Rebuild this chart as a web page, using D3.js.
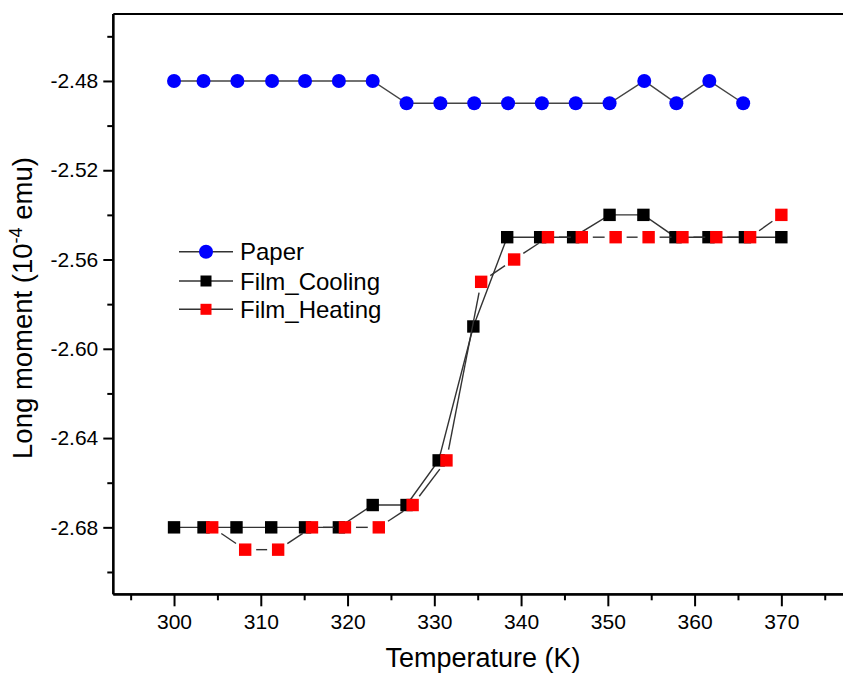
<!DOCTYPE html>
<html>
<head>
<meta charset="utf-8">
<script src="https://cdn.jsdelivr.net/npm/d3@7"></script>
<style>
  html, body { margin: 0; padding: 0; background: #fff; }
  svg { display: block; }
  text { font-family: Arial, "Liberation Sans", sans-serif; fill: #000; }
</style>
</head>
<body>
<svg id="chart" width="843" height="675"></svg>
<script>
// ---- data ----
const paperT = [300, 303.4, 307.3, 311.3, 315.1, 319.0, 322.9, 326.8, 330.7, 334.6, 338.5, 342.4, 346.3, 350.2, 354.2, 357.9, 361.7, 365.6];
const paperM = [-2.48, -2.48, -2.48, -2.48, -2.48, -2.48, -2.48, -2.49, -2.49, -2.49, -2.49, -2.49, -2.49, -2.49, -2.48, -2.49, -2.48, -2.49];

const coolT = [300, 303.4, 307.2, 311.2, 315.1, 319.0, 322.9, 326.8, 330.5, 334.5, 338.4, 342.2, 346.0, 350.2, 354.1, 357.8, 361.6, 365.8, 370.0];
const coolM = [-2.68, -2.68, -2.68, -2.68, -2.68, -2.68, -2.67, -2.67, -2.65, -2.59, -2.55, -2.55, -2.55, -2.54, -2.54, -2.55, -2.55, -2.55, -2.55];

const heatT = [304.4, 308.2, 312.0, 315.9, 319.7, 323.6, 327.5, 331.4, 335.4, 339.2, 343.1, 347.0, 350.9, 354.7, 358.6, 362.5, 366.4, 370.0];
const heatM = [-2.68, -2.69, -2.69, -2.68, -2.68, -2.68, -2.67, -2.65, -2.57, -2.56, -2.55, -2.55, -2.55, -2.55, -2.55, -2.55, -2.55, -2.54];

const xMajorTicks = [300, 310, 320, 330, 340, 350, 360, 370];
const xMinorTicks = [295, 305, 315, 325, 335, 345, 355, 365, 375];
const yMajorTicks = [-2.48, -2.52, -2.56, -2.60, -2.64, -2.68];
const yMinorTicks = [-2.46, -2.50, -2.54, -2.58, -2.62, -2.66, -2.70];

const seriesNames = ["Paper", "Film_Cooling", "Film_Heating"];
const seriesColors = ["#0000ff", "#000000", "#ff0000"];

// ---- layout ----
const svg = d3.select("#chart");
const pLeft = 113.3, pTop = 14, pBottom = 594.3;
const x = d3.scaleLinear().domain([293, 380]).range([pLeft, pLeft + 87 * 8.676]);
const y = d3.scaleLinear().domain([-2.71, -2.45]).range([pBottom, pTop]);

// frame: top line
svg.append("line").attr("x1", pLeft).attr("x2", 843).attr("y1", pTop).attr("y2", pTop)
  .attr("stroke", "#000").attr("stroke-width", 2.2);

// x axis
const gx = svg.append("g").attr("transform", `translate(0,${pBottom})`);
gx.call(d3.axisBottom(x).tickValues(xMajorTicks).tickSize(12).tickPadding(8).tickFormat(d3.format("d")));
const gxm = svg.append("g").attr("transform", `translate(0,${pBottom})`);
gxm.call(d3.axisBottom(x).tickValues(xMinorTicks).tickSize(6).tickFormat(""));
[gx, gxm].forEach(g => {
  g.select(".domain").attr("stroke", "#000").attr("stroke-width", 2.2).attr("d", `M${pLeft},0H843`);
  g.selectAll(".tick line").attr("stroke", "#000").attr("stroke-width", 2);
  g.selectAll(".tick text").style("font-size", "21px").style("font-family", "Arial, 'Liberation Sans', sans-serif");
});

// y axis
const gy = svg.append("g").attr("transform", `translate(${pLeft},0)`);
gy.call(d3.axisLeft(y).tickValues(yMajorTicks).tickSize(10).tickPadding(5).tickFormat(d => d.toFixed(2)));
const gym = svg.append("g").attr("transform", `translate(${pLeft},0)`);
gym.call(d3.axisLeft(y).tickValues(yMinorTicks).tickSize(6).tickFormat(""));
[gy, gym].forEach(g => {
  g.select(".domain").attr("stroke", "#000").attr("stroke-width", 2.2).attr("d", `M0,${pTop}V${pBottom}`);
  g.selectAll(".tick line").attr("stroke", "#000").attr("stroke-width", 2);
  g.selectAll(".tick text").style("font-size", "21px").style("font-family", "Arial, 'Liberation Sans', sans-serif");
});

// axis titles
svg.append("text").attr("x", 483).attr("y", 667).attr("text-anchor", "middle")
  .style("font-size", "27px").text("Temperature (K)");

const yt = svg.append("text").attr("transform", "translate(32,308) rotate(-90)")
  .attr("text-anchor", "middle").style("font-size", "27.5px");
yt.append("tspan").text("Long moment (10");
yt.append("tspan").attr("dy", -10).style("font-size", "18px").text("-4");
yt.append("tspan").attr("dy", 10).text(" emu)");

// ---- series ----
const lineGen = d3.line().x(d => x(d[0])).y(d => y(d[1]));
const paper = paperT.map((t, i) => [t, paperM[i]]);
const cool = coolT.map((t, i) => [t, coolM[i]]);
const heat = heatT.map((t, i) => [t, heatM[i]]);

// paper
svg.append("path").datum(paper).attr("d", lineGen).attr("fill", "none")
  .attr("stroke", "#444").attr("stroke-width", 1.4);
svg.selectAll(".pc").data(paper).enter().append("circle")
  .attr("cx", d => x(d[0])).attr("cy", d => y(d[1])).attr("r", 7)
  .attr("fill", seriesColors[0]);

// cooling
svg.append("path").datum(cool).attr("d", lineGen).attr("fill", "none")
  .attr("stroke", "#333").attr("stroke-width", 1.4);
svg.selectAll(".cs").data(cool).enter().append("rect")
  .attr("x", d => x(d[0]) - 6.2).attr("y", d => y(d[1]) - 6.2)
  .attr("width", 12.4).attr("height", 12.4).attr("fill", seriesColors[1]);

// heating: line segments with gaps around symbols
const gap = 11;
const segs = d3.pairs(heat).map(([a, b]) => {
  const x1 = x(a[0]), y1 = y(a[1]), x2 = x(b[0]), y2 = y(b[1]);
  const L = Math.hypot(x2 - x1, y2 - y1);
  const ux = (x2 - x1) / L, uy = (y2 - y1) / L;
  return [[x1 + ux * gap, y1 + uy * gap], [x2 - ux * gap, y2 - uy * gap]];
});
svg.selectAll(".hs").data(segs).enter().append("line")
  .attr("x1", d => d[0][0]).attr("y1", d => d[0][1])
  .attr("x2", d => d[1][0]).attr("y2", d => d[1][1])
  .attr("stroke", "#333").attr("stroke-width", 1.4);
svg.selectAll(".hr").data(heat).enter().append("rect")
  .attr("x", d => x(d[0]) - 6.2).attr("y", d => y(d[1]) - 6.2)
  .attr("width", 12.4).attr("height", 12.4).attr("fill", seriesColors[2]);

// ---- legend ----
const legendY = [251.7, 281, 309.3];
const lg = svg.append("g");
seriesNames.forEach((name, i) => {
  const yy = legendY[i];
  lg.append("line").attr("x1", 179).attr("x2", 233).attr("y1", yy).attr("y2", yy)
    .attr("stroke", "#333").attr("stroke-width", 1.4);
  if (i === 0) {
    lg.append("circle").attr("cx", 206).attr("cy", yy).attr("r", 7).attr("fill", seriesColors[i]);
  } else {
    lg.append("rect").attr("x", 200.5).attr("y", yy - 5.5).attr("width", 11).attr("height", 11)
      .attr("fill", seriesColors[i]);
  }
  lg.append("text").attr("x", 240).attr("y", yy).attr("dy", "0.36em")
    .style("font-size", "24px").text(name);
});
</script>
</body>
</html>
